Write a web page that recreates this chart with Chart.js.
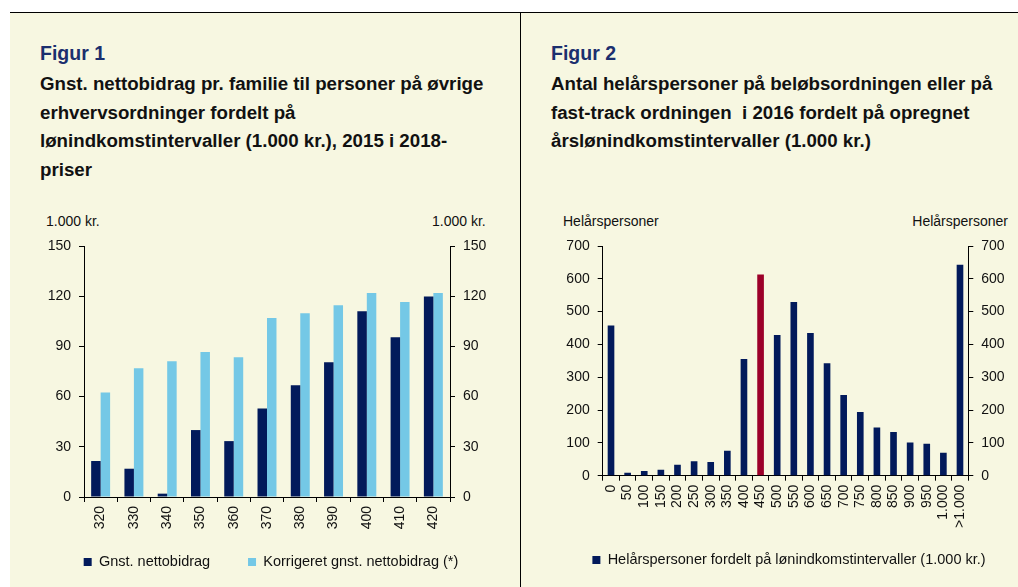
<!DOCTYPE html>
<html>
<head>
<meta charset="utf-8">
<script src="https://cdn.jsdelivr.net/npm/chart.js@4/dist/chart.umd.min.js"></script>
<style>
  html, body { margin: 0; padding: 0; background: #ffffff; }
  body { width: 1018px; height: 587px; position: relative; overflow: hidden; font-family: "Liberation Sans", Arial, sans-serif; }
  #bg { position: absolute; left: 10px; top: 12px; width: 1008px; height: 575px; background: #F7F7E1; border-top: 1px solid #000; }
  #divider { position: absolute; left: 520px; top: 12px; width: 1px; height: 575px; background: #000; }
  .fig { position: absolute; font-weight: bold; color: #1B2F6E; font-size: 19.5px; line-height: 19.5px; white-space: nowrap; }
  .sub { position: absolute; font-weight: bold; color: #111; font-size: 18.7px; line-height: 28.5px; white-space: nowrap; }
  .axt { position: absolute; font-size: 14px; line-height: 14px; color: #111; white-space: nowrap; }
  canvas { position: absolute; }
</style>
</head>
<body>
<div id="bg"></div>
<div id="divider"></div>

<div class="fig" style="left:40px; top:44px;">Figur 1</div>
<div class="sub" style="left:40px; top:70px;">Gnst. nettobidrag pr. familie til personer på øvrige<br>erhvervsordninger fordelt på<br>lønindkomstintervaller (1.000 kr.), 2015 i 2018-<br>priser</div>

<div class="fig" style="left:551px; top:44px;">Figur 2</div>
<div class="sub" style="left:551px; top:70px;">Antal helårspersoner på beløbsordningen eller på<br>fast-track ordningen&nbsp; i 2016 fordelt på opregnet<br>årslønindkomstintervaller (1.000 kr.)</div>

<div class="axt" style="left:46px; top:213.5px;">1.000 kr.</div>
<div class="axt" style="left:432px; top:213.5px;">1.000 kr.</div>
<div class="axt" style="left:563px; top:213.5px;">Helårspersoner</div>
<div class="axt" style="right:10px; top:213.5px;">Helårspersoner</div>

<canvas id="c1" width="480" height="351" style="left:30px; top:236px;"></canvas>
<canvas id="c2" width="488" height="351" style="left:530px; top:236px;"></canvas>

<script>
// ---- Figur 1 data ----
const fig1Categories = ['320', '330', '340', '350', '360', '370', '380', '390', '400', '410', '420'];
const fig1Gnst = [21.5, 16.9, 2.0, 40.0, 33.4, 52.9, 66.8, 80.6, 111.0, 95.5, 119.8];
const fig1Korrigeret = [62.5, 77.0, 81.2, 86.7, 83.5, 107.0, 109.8, 114.6, 121.9, 116.6, 121.9];
const fig1SeriesNames = ['Gnst. nettobidrag', 'Korrigeret gnst. nettobidrag (*)'];
const fig1AxisMin = 0, fig1AxisMax = 150, fig1AxisStep = 30;

// ---- Figur 2 data ----
const fig2Categories = ['0', '50', '100', '150', '200', '250', '300', '350', '400', '450', '500', '550',
  '600', '650', '700', '750', '800', '850', '900', '950', '1.000', '>1.000'];
const fig2Values = [458, 9, 14, 18, 33, 44, 42, 76, 356, 613, 429, 529, 435, 343, 246, 194, 147, 133, 101, 97, 70, 643];
const fig2SeriesName = 'Helårspersoner fordelt på lønindkomstintervaller (1.000 kr.)';
const fig2Highlight = '450';
const fig2AxisMin = 0, fig2AxisMax = 700, fig2AxisStep = 100;

const NAVY = '#021A5B';
const LIGHT = '#74C8E6';
const RED = '#9C0029';
const TXT = '#111111';
const FONT = '"Liberation Sans", Arial, sans-serif';

Chart.defaults.font.family = FONT;
Chart.defaults.color = TXT;

function yScale(pos, min, max, step, width) {
  return {
    type: 'linear', position: pos, min: min, max: max,
    beginAtZero: true,
    border: { display: true, color: '#000', width: 1 },
    grid: { drawOnChartArea: false, drawTicks: true, tickLength: 5, color: '#000', lineWidth: 1 },
    ticks: { stepSize: step, padding: 8, font: { size: 14 }, color: TXT },
    afterFit: function (s) { s.width = width; s.paddingTop = 0; s.paddingBottom = 0; }
  };
}

function xScale(height) {
  return {
    type: 'category',
    offset: true,
    border: { display: true, color: '#000', width: 1 },
    grid: { drawOnChartArea: false, drawTicks: true, tickLength: 5, color: '#000', offset: true },
    ticks: { minRotation: 90, maxRotation: 90, autoSkip: false, padding: 4, font: { size: 14 }, color: TXT },
    afterFit: function (s) { s.height = height; s.paddingLeft = 0; s.paddingRight = 0; }
  };
}

// legend items: extra trailing spacing after all but the last item widens the gap between entries
function spacedLabels(extraSpaces) {
  return function (chart) {
    const items = Chart.defaults.plugins.legend.labels.generateLabels(chart);
    items.forEach(function (it, i) {
      if (i < items.length - 1) it.text = it.text + ' '.repeat(extraSpaces);
    });
    return items;
  };
}

new Chart(document.getElementById('c1'), {
  type: 'bar',
  data: {
    labels: fig1Categories,
    datasets: [
      { label: fig1SeriesNames[0], data: fig1Gnst, backgroundColor: NAVY, yAxisID: 'y', barPercentage: 1, categoryPercentage: 0.57 },
      { label: fig1SeriesNames[1], data: fig1Korrigeret, backgroundColor: LIGHT, yAxisID: 'y', barPercentage: 1, categoryPercentage: 0.57 }
    ]
  },
  options: {
    responsive: false, animation: false, devicePixelRatio: 1, events: [],
    layout: { padding: { left: 12, right: 10, top: 10, bottom: 7.75 } },
    scales: {
      x: xScale(36),
      y: yScale('left', fig1AxisMin, fig1AxisMax, fig1AxisStep, 42),
      y2: yScale('right', fig1AxisMin, fig1AxisMax, fig1AxisStep, 50)
    },
    plugins: {
      legend: {
        position: 'bottom',
        labels: { boxWidth: 8, boxHeight: 8, padding: 21.75, font: { size: 14.5 }, color: TXT,
          generateLabels: spacedLabels(4) }
      },
      tooltip: { enabled: false }
    }
  }
});

new Chart(document.getElementById('c2'), {
  type: 'bar',
  data: {
    labels: fig2Categories,
    datasets: [
      {
        label: fig2SeriesName, data: fig2Values, yAxisID: 'y',
        backgroundColor: function (ctx) {
          if (ctx.type === 'data' && fig2Categories[ctx.dataIndex] === fig2Highlight) return RED;
          return NAVY;
        },
        barPercentage: 0.4, categoryPercentage: 1
      }
    ]
  },
  options: {
    responsive: false, animation: false, devicePixelRatio: 1, events: [],
    layout: { padding: { left: 30, right: 0, top: 10, bottom: 9.75 } },
    scales: {
      x: xScale(67.05),
      y: yScale('left', fig2AxisMin, fig2AxisMax, fig2AxisStep, 42.7),
      y2: yScale('right', fig2AxisMin, fig2AxisMax, fig2AxisStep, 49.7)
    },
    plugins: {
      legend: {
        position: 'bottom',
        labels: { boxWidth: 8, boxHeight: 8, padding: 10, font: { size: 14.5 }, color: TXT }
      },
      tooltip: { enabled: false }
    }
  }
});
</script>
</body>
</html>
